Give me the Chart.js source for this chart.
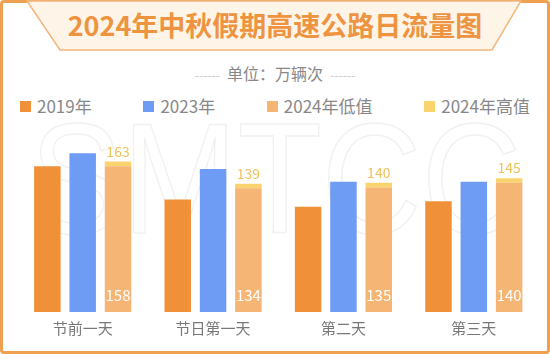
<!DOCTYPE html>
<html>
<head>
<meta charset="utf-8">
<script src="https://cdn.jsdelivr.net/npm/chart.js@4"></script>
<style>
  body { margin: 0; background: #fff; font-family: "Noto Sans CJK SC", sans-serif; }
  #frame { position: absolute; left: 0; top: 0; width: 550px; height: 354px; box-sizing: border-box;
           border: 3px solid #f0a050; border-radius: 4px; overflow: hidden; background: #fff; }
  #tab { position: absolute; left: 0; top: 0; }
  #title { position: absolute; left: 0; top: 6px; width: 550px; text-align: center; font-size: 27px;
           font-weight: bold; color: #ee9440; letter-spacing: 0px; line-height: 38px; }
  #unit { position: absolute; left: 0; top: 62px; width: 550px; text-align: center; font-size: 16px;
          color: #888; line-height: 22px; }
  #unit span { color: #c8c8c8; font-size: 12px; }
  #legend { position: absolute; left: 20px; right: 20px; top: 94px; display: flex; justify-content: space-between; }
  .item { display: flex; align-items: center; font-size: 17px; color: #888; line-height: 24px; }
  .box { width: 11px; height: 11px; margin-right: 6px; }
  #mark { position: absolute; left: 30px; top: 99px; font-family: "Liberation Sans", sans-serif; font-size: 158px;
          line-height: 1; color: transparent; -webkit-text-stroke: 1.5px #f1f1f1; transform: scaleX(0.875);
          transform-origin: 0 0; white-space: nowrap; }
  #c { position: absolute; left: 0; top: 0; }
</style>
</head>
<body>
<div id="frame"></div>
<div id="mark">SMTCC</div>
<svg id="tab" width="550" height="60">
  <polygon points="27,1 60,50 492,50 521,1" fill="#fef5e8" stroke="#f2b77c" stroke-width="1.5"/>
</svg>
<div id="title">2024年中秋假期高速公路日流量图</div>
<div id="unit"><span>------</span>&nbsp; 单位：万辆次 &nbsp;<span>------</span></div>
<div id="legend"></div>
<canvas id="c" width="550" height="354"></canvas>
<script>
const days = ['节前一天', '节日第一天', '第二天', '第三天'];
const v2019 = [158, 122, 114, 120];
const v2023 = [172, 155, 141, 141];
const low2024 = [158, 134, 135, 140];
const high2024 = [163, 139, 140, 145];

const names = ['2019年', '2023年', '2024年低值', '2024年高值'];
const colors = ['#f0913a', '#6e9cf4', '#f5b574', '#f9d46e'];

// legend in html, spread like the picture
const legend = document.getElementById('legend');
names.forEach(function(n, i) {
  legend.innerHTML += '<div class="item"><div class="box" style="background:' + colors[i] + '"></div>' + n + '</div>';
});

const labelPlugin = {
  id: 'vals',
  afterDatasetsDraw(chart) {
    const ctx = chart.ctx;
    ctx.save();
    ctx.textAlign = 'center';
    chart.getDatasetMeta(3).data.forEach(function(bar, i) {
      ctx.fillStyle = '#edc35a';
      ctx.font = '14px "Noto Sans CJK SC"';
      ctx.textBaseline = 'bottom';
      ctx.fillText(high2024[i], bar.x, bar.y - 3);
    });
    chart.getDatasetMeta(2).data.forEach(function(bar, i) {
      ctx.fillStyle = '#ffffff';
      ctx.font = '15px "Noto Sans CJK SC"';
      ctx.textBaseline = 'middle';
      ctx.fillText(low2024[i], bar.x, bar.base - 17);
    });
    ctx.restore();
  }
};

const ctx = document.getElementById('c');
new Chart(ctx, {
  type: 'bar',
  data: {
    labels: days,
    datasets: [
      { label: names[0], data: v2019, backgroundColor: colors[0], stack: 'a' },
      { label: names[1], data: v2023, backgroundColor: colors[1], stack: 'b' },
      { label: names[2], data: low2024, backgroundColor: colors[2], stack: 'c' },
      { label: names[3], data: high2024.map(function(h, i) { return h - low2024[i]; }), backgroundColor: colors[3], stack: 'c' }
    ]
  },
  options: {
    responsive: false,
    animation: false,
    categoryPercentage: 0.813,
    barPercentage: 0.75,
    layout: { padding: { left: 17.5, right: 11, top: 120, bottom: 10 } },
    plugins: {
      legend: { display: false },
      tooltip: { enabled: false }
    },
    scales: {
      x: {
        stacked: true,
        grid: { display: false, drawTicks: false },
        border: { display: false },
        ticks: { color: '#777', font: { size: 15, family: 'Noto Sans CJK SC' }, padding: 7 }
      },
      y: {
        stacked: true,
        display: false,
        min: 0,
        max: 208
      }
    }
  },
  plugins: [labelPlugin]
});
</script>
</body>
</html>
